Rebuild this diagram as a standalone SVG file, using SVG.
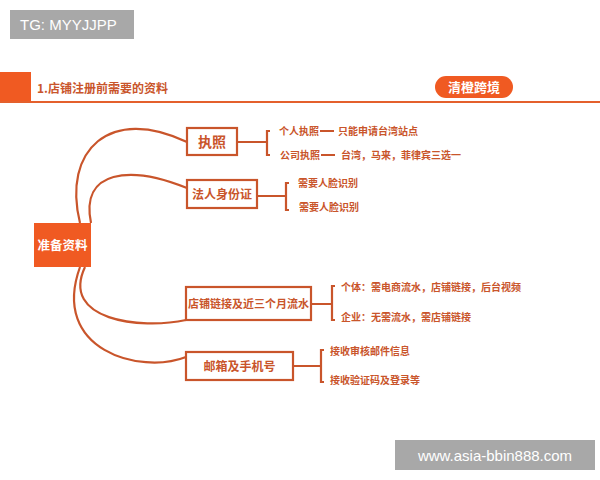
<svg xmlns="http://www.w3.org/2000/svg" width="600" height="480" viewBox="0 0 600 480">
<style>
.box{fill:#fff;stroke:#c9552b;stroke-width:2.2}
.ln{fill:none;stroke:#c9552b;stroke-width:2.2}
.t{font-family:"Noto Sans CJK SC","Liberation Sans",sans-serif;font-weight:bold;fill:#c9552b}
.sm{font-size:10px}
.wm{font-family:"Liberation Sans",sans-serif;fill:#fff;font-size:15px}
</style>
<rect width="600" height="480" fill="#fff"/>
<g id="header">
<rect x="0" y="72" width="31" height="31" fill="#f05a22"/>
<line x1="0" y1="102" x2="600" y2="102" stroke="#e4602c" stroke-width="2"/>
<text x="37" y="93" class="t" font-size="12" fill="#d2612f">1.店铺注册前需要的资料</text>
<rect x="435" y="76" width="78" height="22" rx="11" fill="#f05a22"/>
<text x="474" y="92" text-anchor="middle" class="t" font-size="13" style="fill:#fff">清橙跨境</text>
</g>
<g id="connectors">
<path class="ln" d="M80,223 C62,150 110,105 187,142"/>
<path class="ln" d="M91,223 C80,170 130,165 187,188"/>
<path class="ln" d="M85,267 C60,320 140,330 186,320"/>
<path class="ln" d="M80,267 C50,350 140,375 186,357"/>
<path class="ln" d="M237,142 H267 M270,131 H267 V155 H270"/>
<path class="ln" d="M320,131 H334 M321,155 H335"/>
<path class="ln" d="M257,196 H286 M289,183 H286 V210 H289"/>
<path class="ln" d="M311,304 H332 M335,286 H332 V320 H335"/>
<path class="ln" d="M293,366 H321 M324,350 H321 V382 H324"/>
</g>
<g id="n-center">
<rect x="34" y="223" width="57" height="44" fill="#f05a22"/>
<text x="62.5" y="250" text-anchor="middle" class="t" font-size="12.5" style="fill:#fff">准备资料</text>
</g>
<g id="n-license">
<rect class="box" x="187" y="128" width="50" height="27"/>
<text x="212" y="147" text-anchor="middle" class="t" font-size="14">执照</text>
<text x="279" y="135" class="t sm">个人执照</text>
<text x="338" y="135" class="t sm">只能申请台湾站点</text>
<text x="280" y="159" class="t sm">公司执照</text>
<text x="341" y="159" class="t sm">台湾，马来，菲律宾三选一</text>
</g>
<g id="n-id">
<rect class="box" x="187" y="180" width="70" height="28"/>
<text x="222" y="199" text-anchor="middle" class="t" font-size="12">法人身份证</text>
<text x="298" y="187" class="t sm">需要人脸识别</text>
<text x="299" y="211" class="t sm">需要人脸识别</text>
</g>
<g id="n-shop">
<rect class="box" x="186" y="287" width="125" height="33"/>
<text x="248.5" y="308" text-anchor="middle" class="t" font-size="11">店铺链接及近三个月流水</text>
<text x="341" y="291" class="t sm">个体：需电商流水，店铺链接，后台视频</text>
<text x="341" y="321" class="t sm">企业：无需流水，需店铺链接</text>
</g>
<g id="n-mail">
<rect class="box" x="186" y="352" width="107" height="28"/>
<text x="239.5" y="371" text-anchor="middle" class="t" font-size="12">邮箱及手机号</text>
<text x="330" y="355" class="t sm">接收审核邮件信息</text>
<text x="330" y="384" class="t sm">接收验证码及登录等</text>
</g>
<g id="watermarks">
<rect x="10" y="10" width="124" height="29" fill="#a8a8a8"/>
<text x="20" y="30" class="wm">TG: MYYJJPP</text>
<rect x="395" y="440" width="200" height="30" fill="#a8a8a8"/>
<text x="495" y="461" text-anchor="middle" class="wm">www.asia-bbin888.com</text>
</g>
</svg>
